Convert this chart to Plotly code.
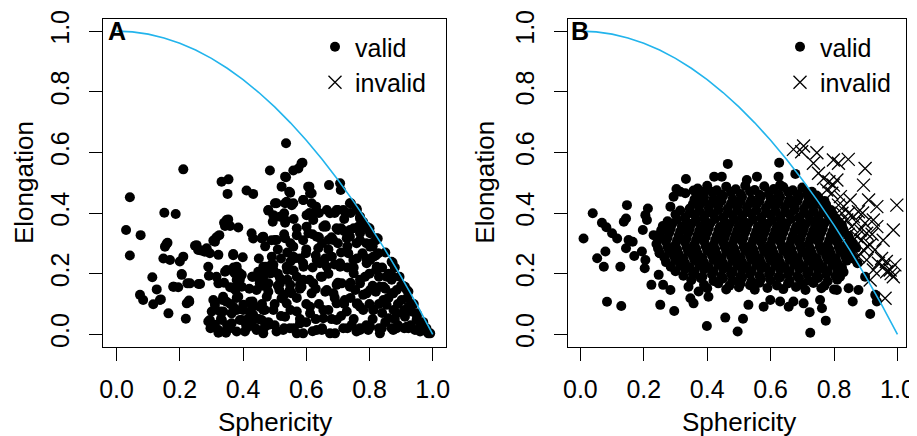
import plotly.graph_objects as go

# ---------------- data ----------------
a_valid = [
    (0.030,0.344),(0.042,0.452),(0.042,0.260),(0.076,0.327),(0.074,0.130),(0.084,0.113),(0.113,0.188),(0.127,0.148),
    (0.116,0.099),(0.140,0.115),(0.151,0.401),(0.187,0.397),(0.211,0.544),(0.164,0.069),(0.153,0.289),(0.161,0.302),
    (0.148,0.250),(0.169,0.245),(0.179,0.157),(0.195,0.155),(0.200,0.240),(0.211,0.256),(0.206,0.199),(0.219,0.051),
    (0.222,0.102),(0.229,0.111),(0.224,0.168),(0.248,0.292),(0.258,0.278),(0.232,0.168),(0.259,0.166),(0.269,0.276),
    (0.285,0.284),(0.290,0.223),(0.292,0.193),(0.295,0.267),(0.306,0.309),(0.316,0.320),(0.325,0.327),(0.332,0.503),
    (0.354,0.511),(0.351,0.463),(0.340,0.368),(0.353,0.379),(0.359,0.357),(0.322,0.262),(0.369,0.265),(0.385,0.352),
    (0.399,0.254),(0.411,0.474),(0.432,0.463),(0.427,0.333),(0.432,0.316),(0.461,0.320),(0.485,0.540),(0.480,0.408),
    (0.494,0.371),(0.506,0.432),(0.522,0.487),(0.536,0.630),(0.533,0.520),(0.549,0.467),(0.559,0.540),(0.575,0.547),
    (0.588,0.566),(0.530,0.399),(0.538,0.437),(0.559,0.432),(0.533,0.368),(0.591,0.443),(0.610,0.487),(0.617,0.465),
    (0.672,0.492),(0.707,0.498),(0.709,0.476),(0.741,0.432),(0.759,0.415),(0.770,0.382),(0.791,0.349),(0.802,0.333),
    (0.826,0.316),(0.873,0.236),(0.907,0.159),(0.923,0.141),(0.960,0.038),(0.992,0.003),(0.981,0.009),
    (0.348,0.377),(0.343,0.357),(0.158,0.298),(0.253,0.294),(0.279,0.272),(0.311,0.305),(0.369,0.261),(0.343,0.206),
    (0.374,0.201),(0.396,0.196),(0.206,0.196),(0.264,0.166),(0.181,0.157),(0.137,0.113),(0.230,0.107),(0.316,0.190),
    (0.322,0.168),(0.306,0.113),(0.311,0.097),(0.337,0.124),(0.348,0.107),(0.369,0.152),(0.380,0.179),(0.396,0.157),
    (0.385,0.124),(0.369,0.091),(0.401,0.097),(0.429,0.190),(0.422,0.107),(0.443,0.146),(0.453,0.168),(0.464,0.190),
    (0.472,0.223),(0.448,0.206),(0.459,0.316),(0.380,0.223),(0.348,0.212),(0.295,0.047),(0.311,0.031),(0.322,0.014),
    (0.333,0.047),(0.348,0.014),(0.364,0.036),(0.380,0.009),(0.396,0.047),(0.411,0.020),(0.427,0.036),(0.443,0.014),
    (0.459,0.047),(0.464,0.003),(0.480,0.031),(0.301,0.075),(0.337,0.075),(0.380,0.080),(0.422,0.075),(0.464,0.080),
    (0.585,0.564),(0.536,0.518),(0.546,0.470),(0.606,0.487),(0.612,0.465),(0.501,0.432),(0.533,0.432),(0.554,0.426),
    (0.590,0.443),(0.617,0.432),(0.480,0.410),(0.496,0.393),(0.517,0.388),(0.533,0.377),(0.738,0.432),(0.770,0.388),
    (0.601,0.393),(0.628,0.399),(0.665,0.410),(0.696,0.410),(0.722,0.404),(0.791,0.355),(0.823,0.317),(0.601,0.355),
    (0.654,0.355),(0.696,0.350),(0.738,0.344),(0.770,0.333),(0.464,0.322),(0.501,0.311),(0.533,0.317),(0.570,0.327),
    (0.633,0.322),(0.685,0.311),(0.728,0.317),(0.759,0.300),(0.802,0.289),(0.870,0.239),(0.464,0.223),(0.496,0.212),
    (0.538,0.223),(0.559,0.256),(0.590,0.234),(0.633,0.245),(0.665,0.223),(0.707,0.234),(0.749,0.245),(0.791,0.234),
    (0.823,0.223),(0.812,0.256),(0.875,0.190),(0.907,0.157),(0.918,0.146),(0.475,0.157),(0.517,0.168),(0.548,0.146),
    (0.580,0.163),(0.622,0.168),(0.665,0.146),(0.696,0.163),(0.738,0.157),(0.770,0.168),(0.802,0.146),(0.844,0.157),
    (0.875,0.135),(0.453,0.091),(0.496,0.080),(0.538,0.102),(0.570,0.075),(0.612,0.091),(0.654,0.080),(0.696,0.102),
    (0.728,0.075),(0.770,0.091),(0.812,0.080),(0.854,0.097),(0.886,0.069),(0.923,0.091),(0.949,0.069),(0.469,0.025),
    (0.506,0.009),(0.548,0.020),(0.590,0.003),(0.633,0.014),(0.675,0.003),(0.717,0.020),(0.759,0.009),(0.802,0.025),
    (0.833,0.003),(0.875,0.014),(0.918,0.025),(0.960,0.009),(0.986,0.003),
    (0.290,0.042),(0.297,0.020),(0.322,0.005),(0.327,0.075),(0.335,0.113),(0.346,0.005),(0.359,0.020),(0.364,0.069),
    (0.376,0.146),(0.382,0.163),(0.388,0.203),(0.369,0.207),(0.359,0.155),(0.390,0.047),(0.406,0.009),(0.417,0.053),
    (0.432,0.064),(0.430,0.190),(0.430,0.108),(0.454,0.168),(0.469,0.080),(0.475,0.124),(0.480,0.168),(0.487,0.201),
    (0.496,0.229),(0.491,0.256),(0.506,0.311),(0.515,0.146),(0.517,0.185),(0.522,0.119),(0.527,0.014),(0.533,0.058),
    (0.540,0.212),(0.549,0.163),(0.554,0.135),(0.559,0.289),(0.565,0.251),(0.570,0.003),(0.580,0.036),(0.585,0.157),
    (0.591,0.223),(0.599,0.267),(0.607,0.333),(0.612,0.069),(0.617,0.135),(0.622,0.377),(0.631,0.421),(0.638,0.284),
    (0.643,0.234),(0.646,0.190),(0.649,0.014),(0.654,0.053),(0.662,0.355),(0.670,0.311),(0.675,0.399),(0.681,0.256),
    (0.686,0.135),(0.691,0.003),(0.696,0.047),(0.701,0.344),(0.707,0.223),(0.712,0.168),(0.717,0.410),(0.722,0.113),
    (0.733,0.267),(0.738,0.322),(0.744,0.031),(0.750,0.201),(0.755,0.146),(0.762,0.102),(0.765,0.355),(0.770,0.014),
    (0.778,0.267),(0.786,0.190),(0.791,0.135),(0.796,0.014),(0.802,0.245),(0.807,0.300),(0.812,0.080),(0.821,0.212),
    (0.828,0.267),(0.833,0.157),(0.839,0.020),(0.844,0.113),(0.854,0.190),(0.860,0.053),(0.870,0.135),(0.876,0.080),
    (0.886,0.020),(0.895,0.190),(0.902,0.113),(0.912,0.058),(0.923,0.020),(0.933,0.075),(0.944,0.014),(0.949,0.047),
    (0.971,0.014),(0.886,0.146),(0.912,0.157),
    (0.50,0.10),(0.51,0.16),(0.52,0.06),(0.53,0.13),(0.54,0.18),(0.55,0.08),(0.56,0.21),(0.57,0.12),(0.58,0.05),
    (0.59,0.18),(0.60,0.10),(0.48,0.14),(0.47,0.21),(0.46,0.10),(0.45,0.05),(0.44,0.02),(0.50,0.03),(0.52,0.25),
    (0.55,0.30),(0.57,0.35),(0.60,0.28),(0.62,0.22),(0.63,0.15),(0.64,0.10),(0.65,0.30),(0.66,0.25),(0.67,0.20),
    (0.68,0.05),(0.69,0.40),(0.70,0.30),(0.71,0.27),(0.72,0.38),(0.73,0.22),(0.74,0.12),(0.75,0.35),(0.76,0.25),
    (0.77,0.18),(0.78,0.08),(0.79,0.30),(0.80,0.20),(0.81,0.16),(0.82,0.26),(0.83,0.10),(0.84,0.22),(0.85,0.27),
    (0.86,0.12),(0.87,0.18),(0.88,0.05),(0.89,0.10),(0.90,0.16),(0.91,0.08),(0.92,0.12),(0.93,0.03),(0.94,0.10),
    (0.95,0.06),(0.96,0.02),(0.97,0.04),(0.98,0.02),(0.62,0.33),(0.64,0.40),(0.66,0.36),(0.68,0.32),(0.70,0.41),
    (0.72,0.34),(0.74,0.40),(0.76,0.41),(0.78,0.37),(0.63,0.05),(0.65,0.02),(0.67,0.08),(0.71,0.06),(0.73,0.02),
    (0.75,0.05),(0.77,0.02),(0.79,0.03),(0.81,0.05),(0.83,0.02),(0.85,0.04),(0.87,0.02),(0.89,0.03),(0.91,0.02),
    (0.38,0.12),(0.40,0.08),(0.42,0.15),(0.41,0.03),(0.43,0.09),(0.35,0.03),(0.36,0.10),(0.33,0.05),(0.34,0.17),
    (0.37,0.22),(0.39,0.18),(0.45,0.25),(0.44,0.19),(0.47,0.29),(0.49,0.31),(0.51,0.28),(0.53,0.33),(0.54,0.27),
    (0.56,0.38),(0.58,0.25),(0.59,0.31),(0.61,0.40),(0.63,0.26),(0.64,0.32),(0.66,0.14),(0.69,0.12),(0.70,0.17),
    (0.72,0.10),(0.74,0.17),(0.76,0.10),(0.78,0.13),(0.80,0.10),(0.82,0.14),(0.84,0.07),(0.86,0.20),(0.88,0.22),
    (0.48,0.04),(0.56,0.02),(0.60,0.04),(0.62,0.01),(0.53,0.02),(0.58,0.15),(0.46,0.16),(0.49,0.23),(0.51,0.20),
    (0.55,0.24),(0.57,0.19),(0.61,0.18),(0.65,0.19),(0.67,0.28),(0.69,0.23),(0.71,0.35),(0.73,0.29),(0.75,0.22),
    (0.77,0.31),(0.79,0.25),(0.81,0.29),(0.83,0.19),(0.85,0.15),(0.80,0.35),(0.82,0.31),
]
a_invalid = []

b_valid = [
    (0.010,0.316),(0.039,0.399),(0.053,0.251),(0.068,0.368),(0.082,0.353),(0.079,0.273),(0.074,0.223),(0.084,0.107),
    (0.129,0.093),(0.126,0.223),(0.100,0.333),(0.116,0.316),(0.137,0.371),(0.147,0.426),(0.144,0.382),(0.144,0.284),
    (0.152,0.311),(0.165,0.305),(0.170,0.258),(0.194,0.273),(0.197,0.344),(0.205,0.393),(0.213,0.415),(0.210,0.377),
    (0.203,0.218),(0.205,0.245),(0.224,0.163),(0.247,0.196),(0.252,0.097),(0.261,0.163),(0.284,0.146),(0.296,0.077),
    (0.231,0.327),(0.250,0.267),(0.257,0.344),(0.284,0.421),(0.294,0.454),(0.303,0.479),(0.315,0.470),(0.333,0.512),
    (0.331,0.465),(0.357,0.474),(0.370,0.481),(0.376,0.456),(0.389,0.470),(0.389,0.441),(0.422,0.520),(0.446,0.520),
    (0.465,0.562),(0.525,0.509),(0.557,0.520),(0.627,0.566),(0.625,0.520),(0.630,0.492),(0.678,0.529),(0.341,0.157),
    (0.347,0.119),(0.357,0.102),(0.373,0.141),(0.399,0.027),(0.404,0.124),(0.457,0.055),(0.496,0.009),(0.513,0.051),
    (0.530,0.097),(0.578,0.091),(0.599,0.113),(0.630,0.108),(0.657,0.091),(0.672,0.108),(0.704,0.102),(0.723,0.073),
    (0.725,0.005),(0.762,0.086),(0.774,0.045),(0.756,0.113),(0.809,0.146),(0.846,0.152),(0.859,0.108),(0.877,0.146),
    (0.914,0.067),(0.930,0.130),(0.935,0.108),(0.898,0.190),(0.874,0.234),(0.819,0.190),
    (0.40,0.490),(0.43,0.475),(0.46,0.487),(0.49,0.478),(0.52,0.490),(0.55,0.476),
    (0.58,0.488),(0.61,0.479),(0.64,0.486),(0.67,0.475),(0.70,0.484),(0.73,0.470),
    (0.36,0.445),(0.39,0.452),(0.42,0.447),(0.45,0.456),(0.48,0.446),(0.51,0.453),
    (0.54,0.444),(0.57,0.455),(0.60,0.448),(0.63,0.452),(0.66,0.445),(0.69,0.455),(0.72,0.447),(0.75,0.452),(0.77,0.440),
    (0.345,0.415),(0.375,0.424),(0.405,0.417),(0.435,0.426),(0.465,0.415),(0.495,0.423),
    (0.525,0.418),(0.555,0.427),(0.585,0.416),(0.615,0.424),(0.645,0.418),(0.675,0.425),(0.705,0.415),(0.735,0.424),
    (0.765,0.418),(0.79,0.410),
    (0.30,0.395),(0.33,0.385),(0.36,0.394),(0.39,0.387),(0.42,0.396),(0.45,0.386),(0.48,0.393),
    (0.51,0.388),(0.54,0.397),(0.57,0.386),(0.60,0.394),(0.63,0.387),(0.66,0.396),(0.69,0.385),(0.72,0.393),
    (0.75,0.388),(0.78,0.395),(0.805,0.383),
    (0.26,0.357),(0.29,0.365),(0.32,0.355),(0.35,0.364),(0.38,0.356),(0.41,0.366),(0.44,0.354),(0.47,0.363),
    (0.50,0.357),(0.53,0.366),(0.56,0.355),(0.59,0.364),(0.62,0.356),(0.65,0.365),(0.68,0.354),(0.71,0.363),
    (0.74,0.358),(0.77,0.366),(0.80,0.355),(0.825,0.360),
    (0.25,0.328),(0.28,0.335),(0.31,0.325),(0.34,0.334),(0.37,0.327),(0.40,0.336),(0.43,0.325),(0.46,0.333),
    (0.49,0.328),(0.52,0.337),(0.55,0.326),(0.58,0.334),(0.61,0.327),(0.64,0.336),(0.67,0.325),(0.70,0.333),
    (0.73,0.328),(0.76,0.337),(0.79,0.326),(0.82,0.334),(0.845,0.325),
    (0.24,0.298),(0.27,0.305),(0.30,0.295),(0.33,0.304),(0.36,0.297),(0.39,0.306),(0.42,0.295),(0.45,0.303),
    (0.48,0.298),(0.51,0.307),(0.54,0.296),(0.57,0.304),(0.60,0.297),(0.63,0.306),(0.66,0.295),(0.69,0.303),
    (0.72,0.298),(0.75,0.307),(0.78,0.296),(0.81,0.304),(0.84,0.297),(0.86,0.300),
    (0.25,0.268),(0.28,0.275),(0.31,0.265),(0.34,0.274),(0.37,0.267),(0.40,0.276),(0.43,0.265),(0.46,0.273),
    (0.49,0.268),(0.52,0.277),(0.55,0.266),(0.58,0.274),(0.61,0.267),(0.64,0.276),(0.67,0.265),(0.70,0.273),
    (0.73,0.268),(0.76,0.277),(0.79,0.266),(0.82,0.274),(0.85,0.267),
    (0.27,0.238),(0.30,0.245),(0.33,0.235),(0.36,0.244),(0.39,0.237),(0.42,0.246),(0.45,0.235),(0.48,0.243),
    (0.51,0.238),(0.54,0.247),(0.57,0.236),(0.60,0.244),(0.63,0.237),(0.66,0.246),(0.69,0.235),(0.72,0.243),
    (0.75,0.238),(0.78,0.247),(0.81,0.236),(0.84,0.243),
    (0.30,0.208),(0.33,0.215),(0.36,0.205),(0.39,0.214),(0.42,0.207),(0.45,0.216),(0.48,0.205),(0.51,0.213),
    (0.54,0.208),(0.57,0.217),(0.60,0.206),(0.63,0.214),(0.66,0.207),(0.69,0.216),(0.72,0.205),(0.75,0.213),
    (0.78,0.208),(0.81,0.215),(0.83,0.205),
    (0.35,0.178),(0.38,0.185),(0.42,0.176),(0.45,0.184),(0.48,0.177),(0.51,0.186),(0.54,0.175),(0.57,0.183),
    (0.60,0.178),(0.63,0.187),(0.66,0.176),(0.69,0.184),(0.72,0.177),(0.75,0.186),(0.78,0.175),(0.81,0.180),
    (0.40,0.152),(0.46,0.148),(0.50,0.155),(0.55,0.147),(0.59,0.153),(0.64,0.149),(0.68,0.156),(0.71,0.146),
    (0.76,0.152),(0.80,0.148),
    (0.415,0.470),(0.445,0.461),(0.475,0.469),(0.505,0.463),(0.535,0.471),(0.565,0.460),
    (0.595,0.467),(0.625,0.462),(0.655,0.470),(0.685,0.461),(0.715,0.466),(0.745,0.458),
    (0.355,0.430),(0.385,0.437),(0.415,0.432),(0.445,0.440),(0.475,0.431),(0.505,0.438),
    (0.535,0.433),(0.565,0.439),(0.595,0.430),(0.625,0.437),(0.655,0.432),(0.685,0.440),(0.715,0.431),(0.745,0.437),
    (0.775,0.428),
    (0.315,0.408),(0.345,0.400),(0.375,0.407),(0.405,0.402),(0.435,0.410),(0.465,0.401),(0.495,0.408),
    (0.525,0.403),(0.555,0.409),(0.585,0.400),(0.615,0.407),(0.645,0.402),(0.675,0.410),(0.705,0.401),(0.735,0.407),
    (0.765,0.402),(0.795,0.398),
    (0.275,0.373),(0.305,0.378),(0.335,0.370),(0.365,0.377),(0.395,0.372),(0.425,0.380),(0.455,0.371),(0.485,0.378),
    (0.515,0.373),(0.545,0.379),(0.575,0.370),(0.605,0.377),(0.635,0.372),(0.665,0.380),(0.695,0.371),(0.725,0.377),
    (0.755,0.372),(0.785,0.379),(0.815,0.370),
    (0.255,0.343),(0.285,0.348),(0.315,0.340),(0.345,0.347),(0.375,0.342),(0.405,0.350),(0.435,0.341),(0.465,0.348),
    (0.495,0.343),(0.525,0.349),(0.555,0.340),(0.585,0.347),(0.615,0.342),(0.645,0.350),(0.675,0.341),(0.705,0.347),
    (0.735,0.342),(0.765,0.349),(0.795,0.340),(0.830,0.345),
    (0.245,0.313),(0.275,0.318),(0.305,0.310),(0.335,0.317),(0.365,0.312),(0.395,0.320),(0.425,0.311),(0.455,0.318),
    (0.485,0.313),(0.515,0.319),(0.545,0.310),(0.575,0.317),(0.605,0.312),(0.635,0.320),(0.665,0.311),(0.695,0.317),
    (0.725,0.312),(0.755,0.319),(0.785,0.310),(0.815,0.317),(0.850,0.312),
    (0.245,0.283),(0.275,0.288),(0.305,0.280),(0.335,0.287),(0.365,0.282),(0.395,0.290),(0.425,0.281),(0.455,0.288),
    (0.485,0.283),(0.515,0.289),(0.545,0.280),(0.575,0.287),(0.605,0.282),(0.635,0.290),(0.665,0.281),(0.695,0.287),
    (0.725,0.282),(0.755,0.289),(0.785,0.280),(0.815,0.287),(0.845,0.282),(0.870,0.285),
    (0.265,0.253),(0.295,0.258),(0.325,0.250),(0.355,0.257),(0.385,0.252),(0.415,0.260),(0.445,0.251),(0.475,0.258),
    (0.505,0.253),(0.535,0.259),(0.565,0.250),(0.595,0.257),(0.625,0.252),(0.655,0.260),(0.685,0.251),(0.715,0.257),
    (0.745,0.252),(0.775,0.259),(0.805,0.250),(0.835,0.257),(0.860,0.250),
    (0.285,0.223),(0.315,0.228),(0.345,0.220),(0.375,0.227),(0.405,0.222),(0.435,0.230),(0.465,0.221),(0.495,0.228),
    (0.525,0.223),(0.555,0.229),(0.585,0.220),(0.615,0.227),(0.645,0.222),(0.675,0.230),(0.705,0.221),(0.735,0.227),
    (0.765,0.222),(0.795,0.229),(0.825,0.220),
    (0.325,0.193),(0.355,0.198),(0.385,0.190),(0.415,0.197),(0.445,0.192),(0.475,0.200),(0.505,0.191),(0.535,0.198),
    (0.565,0.193),(0.595,0.199),(0.625,0.190),(0.655,0.197),(0.685,0.192),(0.715,0.200),(0.745,0.191),(0.775,0.197),
    (0.805,0.192),
    (0.390,0.163),(0.435,0.168),(0.470,0.160),(0.505,0.167),(0.535,0.162),(0.565,0.170),(0.620,0.161),(0.655,0.168),
    (0.700,0.163),(0.735,0.169),(0.770,0.160),
]

b_invalid = [
    (0.672,0.610),(0.704,0.621),(0.698,0.602),(0.746,0.599),(0.735,0.564),(0.798,0.575),(0.814,0.564),(0.845,0.577),
    (0.898,0.547),(0.751,0.531),(0.767,0.514),(0.784,0.503),(0.798,0.492),(0.809,0.509),(0.777,0.476),(0.793,0.465),
    (0.820,0.454),(0.893,0.492),(0.909,0.443),(0.935,0.421),(0.998,0.426),(0.830,0.421),(0.846,0.399),(0.861,0.388),
    (0.877,0.404),(0.840,0.377),(0.856,0.355),(0.882,0.344),(0.898,0.366),(0.924,0.377),(0.935,0.355),(0.987,0.344),
    (0.872,0.322),(0.887,0.311),(0.903,0.333),(0.914,0.295),(0.893,0.278),(0.877,0.256),(0.903,0.245),(0.929,0.278),
    (0.940,0.234),(0.924,0.212),(0.956,0.223),(0.977,0.212),(0.992,0.229),(0.987,0.190),(0.966,0.206),(0.914,0.179),
    (0.961,0.119),(0.861,0.311),(0.851,0.443),(0.825,0.399),(0.814,0.426),(0.845,0.330),(0.860,0.280),(0.870,0.370),
    (0.890,0.400),(0.905,0.290),(0.920,0.330),(0.950,0.250),(0.965,0.240),(0.980,0.200),(0.955,0.310),
]

# upper bound
curve_x = [0.00,0.05,0.10,0.15,0.20,0.25,0.30,0.35,0.40,0.45,0.50,0.55,0.60,0.65,0.70,0.75,0.80,0.85,0.90,0.95,1.00]
curve_y = [1.000,0.9975,0.990,0.9775,0.960,0.9375,0.910,0.8775,0.840,0.7975,0.750,0.6975,0.640,0.5775,0.510,
           0.4375,0.360,0.2775,0.190,0.0975,0.000]

tick_vals = [0.0, 0.2, 0.4, 0.6, 0.8, 1.0]
tick_text = ["0.0", "0.2", "0.4", "0.6", "0.8", "1.0"]
panel_labels = ["A", "B"]
legend_names = ["valid", "invalid"]

# ---------------- figure ----------------
FONT = "Liberation Sans, Arial, Helvetica, sans-serif"
OFF = 8                      # page body margin of the browser
W, H = 917 - OFF, 436 - OFF

def px_x(p):                 # reference pixel -> paper fraction
    return (p - OFF) / W

def px_y(p):
    return (H - (p - OFF)) / H

fig = go.Figure()

panels = [
    dict(valid=a_valid, invalid=a_invalid, xa="x", ya="y", legend="legend"),
    dict(valid=b_valid, invalid=b_invalid, xa="x2", ya="y2", legend="legend2"),
]
for p in panels:
    inv_x = [v[0] for v in p["invalid"]] or [None]
    inv_y = [v[1] for v in p["invalid"]] or [None]
    fig.add_trace(go.Scatter(
        x=[v[0] for v in p["valid"]], y=[v[1] for v in p["valid"]],
        mode="markers", name=legend_names[0], xaxis=p["xa"], yaxis=p["ya"], legend=p["legend"],
        marker=dict(symbol="circle", size=10, color="black", line=dict(width=0)),
        hoverinfo="skip"))
    fig.add_trace(go.Scatter(
        x=inv_x, y=inv_y,
        mode="markers", name=legend_names[1], xaxis=p["xa"], yaxis=p["ya"], legend=p["legend"],
        marker=dict(symbol="x-thin-open", size=13, color="black", line=dict(width=1.3, color="black")),
        hoverinfo="skip"))
    fig.add_trace(go.Scatter(
        x=curve_x, y=curve_y, mode="lines", showlegend=False, xaxis=p["xa"], yaxis=p["ya"],
        line=dict(color="#22B4EC", width=1.6), hoverinfo="skip"))

def ax(domain, rng, **kw):
    d = dict(domain=domain, range=rng, showline=True, mirror=True, linecolor="black", linewidth=1.3,
             ticks="outside", ticklen=13, tickwidth=1.3, tickcolor="black",
             tickvals=tick_vals, ticktext=tick_text,
             tickfont=dict(family=FONT, size=25, color="black"),
             showgrid=False, zeroline=False, fixedrange=True, automargin=False)
    d.update(kw)
    return d

ydom = [px_y(347), px_y(19)]
yr = [-0.042, 1.04]
leg = dict(xanchor="left", yanchor="top", bgcolor="rgba(0,0,0,0)", borderwidth=0,
           font=dict(family=FONT, size=25, color="black"))
fig.update_layout(
    width=W, height=H, margin=dict(l=0, r=0, t=0, b=0, pad=0),
    paper_bgcolor="white", plot_bgcolor="white",
    xaxis=ax([px_x(103), px_x(446)], [-0.043, 1.042], anchor="y", ticklabelstandoff=7),
    yaxis=ax(ydom, yr, anchor="x", tickangle=-90, ticklabelstandoff=10),
    xaxis2=ax([px_x(568), px_x(906)], [-0.039, 1.027], anchor="y2", ticklabelstandoff=7),
    yaxis2=ax(ydom, yr, anchor="x2", tickangle=-90, ticklabelstandoff=10),
    legend=dict(leg, x=px_x(315), y=px_y(24)),
    legend2=dict(leg, x=px_x(780), y=px_y(24)),
    showlegend=True,
)

annotations = []
for lab, xa, ya, xtitle in [(panel_labels[0], "x", "y", px_x(23.3)), (panel_labels[1], "x2", "y2", px_x(485))]:
    annotations.append(dict(text="<b>" + lab + "</b>", x=0.0, y=1.0, xref=xa, yref=ya,
                            xanchor="center", yanchor="middle", showarrow=False,
                            font=dict(family=FONT, size=25, color="black")))
    annotations.append(dict(text="Sphericity", x=0.5, y=px_y(421.7), xref=xa, yref="paper",
                            xanchor="center", yanchor="middle", showarrow=False,
                            font=dict(family=FONT, size=26, color="black")))
    annotations.append(dict(text="Elongation", x=xtitle, y=0.5, xref="paper", yref=ya,
                            xanchor="center", yanchor="middle", textangle=-90, showarrow=False,
                            font=dict(family=FONT, size=26, color="black")))
fig.update_layout(annotations=annotations)

fig.write_html("out.html")
